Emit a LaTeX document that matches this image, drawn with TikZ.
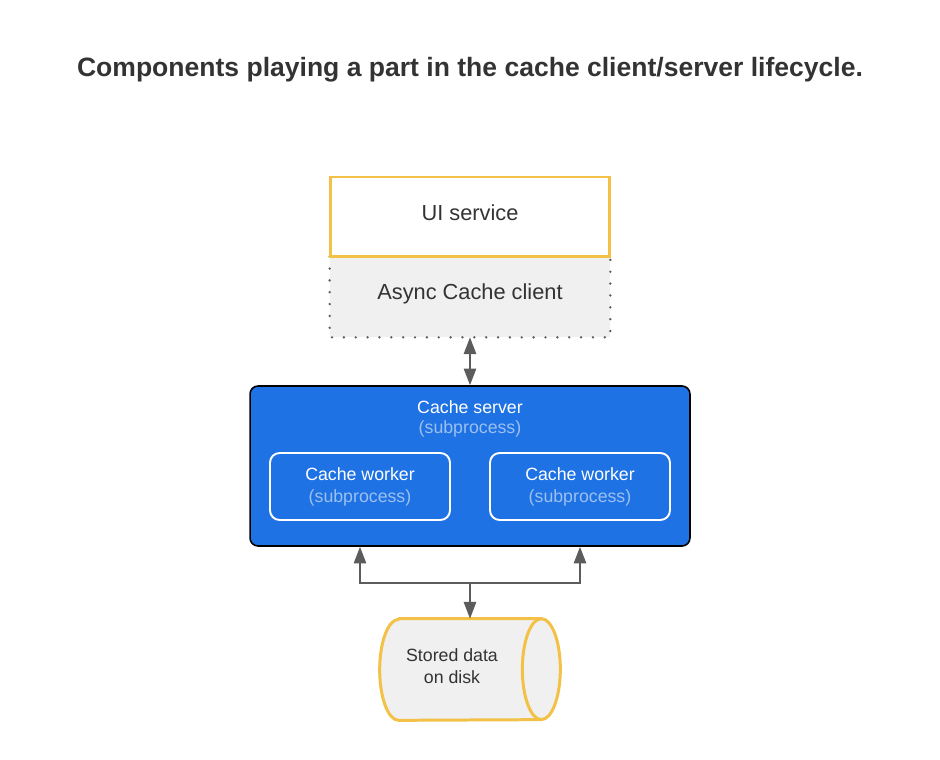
\documentclass[tikz,border=0pt]{standalone}
\usepackage{fontspec}
\setmainfont{Liberation Sans}
\usetikzlibrary{arrows.meta}

\definecolor{boxyellow}{RGB}{242,193,70}
\definecolor{serverblue}{RGB}{31,114,228}
\definecolor{subtext}{RGB}{155,192,240}
\definecolor{linegray}{RGB}{92,92,92}
\definecolor{textgray}{RGB}{51,51,51}
\definecolor{clientgray}{RGB}{240,240,240}

\begin{document}
\begin{tikzpicture}[x=0.02cm,y=-0.02cm,
  >={Triangle[length=9.5pt, width=7pt]},
  every node/.style={inner sep=0pt},
  title/.style={text=textgray, font=\fontsize{15.1}{18}\selectfont\bfseries},
  bigbox/.style={minimum width=5.6cm, minimum height=1.6cm, text=textgray,
    font=\fontsize{12.4}{15}\selectfont},
  server/.style={draw=black, line width=0.9pt, fill=serverblue, rounded corners=4.5pt,
    minimum width=8.8cm, minimum height=3.2cm},
  worker/.style={draw=white, line width=1.1pt, rounded corners=5.5pt, align=center,
    minimum width=3.6cm, minimum height=1.34cm, text=white,
    font=\fontsize{10.1}{12.5}\selectfont},
  small/.style={font=\fontsize{10.1}{12.5}\selectfont},
  conn/.style={draw=linegray, line width=1.1pt},
  drum/.style={draw=boxyellow, line width=1.7pt, line join=round}
]
\useasboundingbox (0,0) rectangle (940,760);

\node[title] (heading) at (470,70) {Components playing a part in the cache client/server lifecycle.};

% client side
\node[bigbox, fill=clientgray] (client) at (470,297) {};
\node[bigbox, text=textgray] (clienttext) at (470,294) {Async Cache client};
\draw[linegray, line width=1.5pt, line cap=round, dash pattern=on 0pt off 6.75pt]
  (client.north west) -- (client.south west) -- (client.south east) -- (client.north east);
\node[bigbox, draw=boxyellow, line width=1.7pt, fill=white] (ui) at (470,217) {};
\node[bigbox] (uitext) at (470,213) {UI service};

% server with workers
\node[server] (server) at (470,466) {};
\node[small, text=white] (servertext) at (470,407) {Cache server};
\node[small, text=subtext] (serversub) at (470,429) {(subprocess)};
\node[worker] (workerA) at (360,486.5) {Cache worker\\\textcolor{subtext}{(subprocess)}};
\node[worker] (workerB) at (580,486.5) {Cache worker\\\textcolor{subtext}{(subprocess)}};

% disk
\node[minimum width=3.6cm, minimum height=2.02cm] (disk) at (470,669.5) {};
\path[drum, fill=clientgray] ([xshift=0.38cm]disk.north west) -- ([xshift=-0.38cm]disk.north east)
  arc[start angle=90, end angle=-90, x radius=0.38cm, y radius=1.01cm]
  -- ([xshift=0.38cm]disk.south west)
  arc[start angle=-90, end angle=-270, x radius=0.38cm, y radius=1.01cm] -- cycle;
\draw[drum] ([xshift=-0.38cm]disk.north east)
  arc[start angle=90, end angle=270, x radius=0.38cm, y radius=1.01cm];
\node[small, text=textgray, align=center] (disktext) at (452,666) {Stored data\\on disk};

% connectors
\draw[conn, <->] (client.south) -- (server.north);
\coordinate (split) at (470,583);
\draw[conn, ->] (split) -| (workerA.south |- server.south);
\draw[conn, ->] (split) -| (workerB.south |- server.south);
\draw[conn, ->] (split) -- (split |- disk.north);
\end{tikzpicture}
\end{document}
